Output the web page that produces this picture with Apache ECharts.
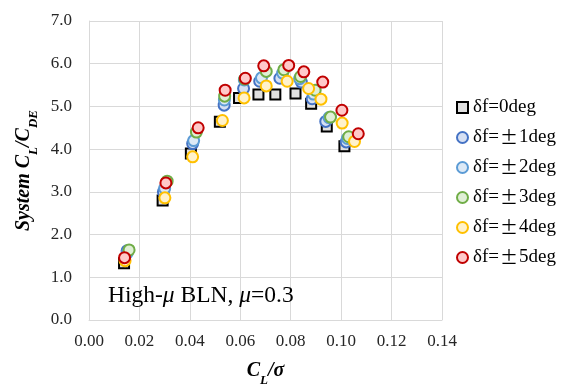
<!DOCTYPE html>
<html>
<head>
<meta charset="utf-8">
<script src="https://cdn.jsdelivr.net/npm/echarts@6/dist/echarts.min.js"></script>
<style>
html,body{margin:0;padding:0;background:#fff;}
#chart{width:573px;height:385px;}
</style>
</head>
<body>
<div id="chart"></div>
<script>
// Series names
const seriesNames = ['δf=0deg', 'δf=±1deg', 'δf=±2deg', 'δf=±3deg', 'δf=±4deg', 'δf=±5deg'];
// x = CL/sigma, y = system CL/CDE
const x0 = [0.0139, 0.0292, 0.0404, 0.0519, 0.0595, 0.0672, 0.0739, 0.0819, 0.0881, 0.0943, 0.1013];
const y0 = [1.33, 2.80, 3.90, 4.64, 5.20, 5.28, 5.28, 5.30, 5.06, 4.53, 4.07];
const x1 = [0.0151, 0.0295, 0.0411, 0.0536, 0.0613, 0.0677, 0.0757, 0.0842, 0.0885, 0.0939, 0.1020];
const y1 = [1.62, 3.00, 4.13, 5.03, 5.42, 5.59, 5.66, 5.57, 5.18, 4.65, 4.17];
const x2 = [0.0152, 0.0300, 0.0415, 0.0537, 0.0616, 0.0684, 0.0768, 0.0835, 0.0890, 0.0952, 0.1025];
const y2 = [1.57, 3.08, 4.20, 5.15, 5.62, 5.67, 5.78, 5.65, 5.29, 4.74, 4.25];
const x3 = [0.0159, 0.0310, 0.0426, 0.0538, 0.0618, 0.0703, 0.0773, 0.0839, 0.0897, 0.0958, 0.1030];
const y3 = [1.64, 3.25, 4.40, 5.24, 5.64, 5.82, 5.86, 5.70, 5.38, 4.75, 4.29];
const x4 = [0.0143, 0.0301, 0.0411, 0.0529, 0.0615, 0.0703, 0.0786, 0.0871, 0.0920, 0.1004, 0.1053];
const y4 = [1.39, 2.86, 3.82, 4.67, 5.20, 5.48, 5.59, 5.42, 5.17, 4.61, 4.18];
const x5 = [0.0141, 0.0305, 0.0433, 0.0540, 0.0620, 0.0693, 0.0792, 0.0852, 0.0927, 0.1003, 0.1068];
const y5 = [1.46, 3.21, 4.50, 5.38, 5.66, 5.95, 5.96, 5.81, 5.57, 4.91, 4.36];
const xTicks = ['0.00','0.02','0.04','0.06','0.08','0.10','0.12','0.14'];
const yTicks = ['0.0','1.0','2.0','3.0','4.0','5.0','6.0','7.0'];

const xs = [x0, x1, x2, x3, x4, x5];
const ys = [y0, y1, y2, y3, y4, y5];
const borderColors = ['#000000', '#4472C4', '#5B9BD5', '#70AD47', '#FFC000', '#C00000'];
const fillColors = ['#E0E0E0', '#D6E0F3', '#DCE9F6', '#E0EFD6', '#FFF2CC', '#FFC9C9'];
const symbols = ['rect', 'circle', 'circle', 'circle', 'circle', 'circle'];

const FONT = '"Liberation Serif", "Times New Roman", serif';

const series = seriesNames.map((name, i) => ({
  name: name,
  type: 'scatter',
  symbol: symbols[i],
  symbolSize: i === 0 ? 10 : 11,
  data: xs[i].map((v, k) => [v, ys[i][k]]),
  itemStyle: { color: fillColors[i], borderColor: borderColors[i], borderWidth: 2, opacity: 1 },
  emphasis: { disabled: true },
  z: 2 + i
}));

const nameRich = {
  b: { fontFamily: FONT, fontSize: 20, fontWeight: 'bold', fontStyle: 'italic', color: '#000', lineHeight: 22, verticalAlign: 'bottom' },
  bs: { fontFamily: FONT, fontSize: 13, fontWeight: 'bold', fontStyle: 'italic', color: '#000', lineHeight: 22, verticalAlign: 'bottom', padding: [0, 0, -6, 0] }
};

const chart = echarts.init(document.getElementById('chart'), null, { renderer: 'canvas' });
chart.setOption({
  animation: false,
  backgroundColor: '#ffffff',
  textStyle: { fontFamily: FONT },
  grid: { left: 89, top: 21, right: 131, bottom: 65, containLabel: false, outerBoundsMode: 'none' },
  xAxis: {
    type: 'value', min: 0, max: 0.14, interval: 0.02,
    name: '{b|C}{bs|L}{b|/σ}',
    nameLocation: 'middle', nameGap: 39,
    nameTextStyle: { rich: nameRich },
    axisLine: { show: true, lineStyle: { color: '#D9D9D9', width: 1 } },
    axisTick: { show: false },
    splitLine: { show: true, lineStyle: { color: '#D9D9D9', width: 1 } },
    axisLabel: {
      fontFamily: FONT, fontSize: 17, color: '#262626', margin: 13,
      formatter: (v) => xTicks[Math.round(v / 0.02)]
    }
  },
  yAxis: {
    type: 'value', min: 0, max: 7, interval: 1,
    name: '{b|System C}{bs|L}{b|/C}{bs|DE}',
    nameLocation: 'middle', nameGap: 46, nameRotate: 90,
    nameTextStyle: { rich: nameRich },
    axisLine: { show: true, lineStyle: { color: '#D9D9D9', width: 1 } },
    axisTick: { show: false },
    splitLine: { show: true, lineStyle: { color: '#D9D9D9', width: 1 } },
    axisLabel: {
      fontFamily: FONT, fontSize: 17, color: '#262626', margin: 17,
      formatter: (v) => yTicks[Math.round(v)]
    }
  },
  legend: {
    orient: 'vertical', left: 451, top: 93,
    itemWidth: 11, itemHeight: 11, itemGap: 11,
    data: seriesNames,
    formatter: (n) => {
      const m = n.match(/^(δf=)(±?)(.*)$/);
      return m[2] ? '{t|' + m[1] + '}{p|±}{t|' + m[3] + '}' : '{t|' + n + '}';
    },
    textStyle: {
      fontFamily: FONT, fontSize: 19, color: '#000',
      rich: {
        t: { fontFamily: FONT, fontSize: 19, color: '#000' },
        p: { fontFamily: '"Noto Sans CJK SC", sans-serif', fontSize: 18, color: '#000', padding: [0, 1, 0, 1] }
      }
    }
  },
  graphic: [{
    type: 'text', left: 108, top: 284, z: 100,
    style: {
      text: '{r|High-}{i|μ}{r| BLN, }{i|μ}{r|=0.3}',
      rich: {
        r: { fontFamily: FONT, fontSize: 23.5, fill: '#000' },
        i: { fontFamily: FONT, fontSize: 23.5, fontStyle: 'italic', fill: '#000' }
      }
    }
  }],
  series: series
});
</script>
</body>
</html>
